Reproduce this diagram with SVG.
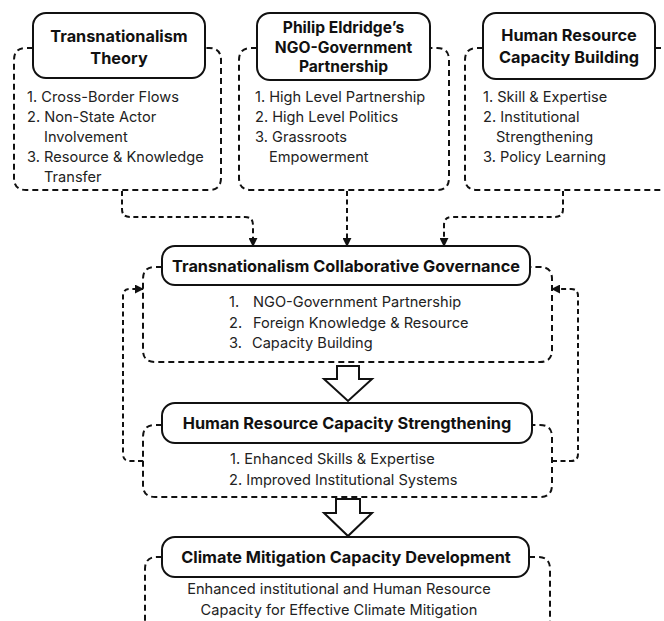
<svg xmlns="http://www.w3.org/2000/svg" width="664" height="621" viewBox="0 0 664 621">
  <defs>
    <style>
      .frame { fill: #ffffff; stroke: #111111; stroke-width: 2; }
      .dash { fill: none; stroke: #111111; stroke-width: 2; stroke-dasharray: 6 4; }
      .link { fill: none; stroke: #111111; stroke-width: 2; stroke-dasharray: 5 3.5; }
      .block { fill: #ffffff; stroke: #111111; stroke-width: 2; stroke-linejoin: miter; }
      .title { font-family: Inter, "Liberation Sans", sans-serif; font-weight: 700; font-size: 16.3px; fill: #111111; text-anchor: middle; }
      .title.small { font-size: 15.6px; }
      .item { font-family: Inter, "Liberation Sans", sans-serif; font-size: 14.6px; fill: #222222; }
      .mid { text-anchor: middle; }
    </style>
    <marker id="tip" viewBox="0 0 10 10" refX="9" refY="5" markerWidth="4.5" markerHeight="4.5" orient="auto" markerUnits="strokeWidth">
      <path d="M0,0 L10,5 L0,10 z" fill="#111111"/>
    </marker>
  </defs>
  <rect width="664" height="621" fill="#ffffff"/>

  <!-- Theory sources -->
  <g id="transnationalism-theory">
    <path class="dash" d="M33,48 H26 Q14,48 14,60 V178 Q14,190 26,190 H209 Q221,190 221,178 V60 Q221,48 209,48 H205"/>
    <rect class="frame" x="33" y="13" width="172" height="65" rx="13"/>
    <text class="title" x="119" y="42">Transnationalism</text>
    <text class="title" x="119" y="64">Theory</text>
    <text class="item" x="27" y="102">1. Cross-Border Flows</text>
    <text class="item" x="27" y="122">2. Non-State Actor</text>
    <text class="item" x="44" y="142">Involvement</text>
    <text class="item" x="27" y="162">3. Resource &amp; Knowledge</text>
    <text class="item" x="44" y="182">Transfer</text>
  </g>

  <g id="ngo-government-partnership">
    <path class="dash" d="M257,48 H251 Q239,48 239,60 V178 Q239,190 251,190 H437 Q449,190 449,178 V60 Q449,48 437,48 H430"/>
    <rect class="frame" x="257" y="13" width="173" height="67" rx="13"/>
    <text class="title small" x="343.5" y="33">Philip Eldridge’s</text>
    <text class="title small" x="343.5" y="53">NGO-Government</text>
    <text class="title small" x="343.5" y="72">Partnership</text>
    <text class="item" x="255" y="102">1. High Level Partnership</text>
    <text class="item" x="255" y="122">2. High Level Politics</text>
    <text class="item" x="255" y="142">3. Grassroots</text>
    <text class="item" x="269" y="162">Empowerment</text>
  </g>

  <g id="capacity-building">
    <path class="dash" d="M483,48 H477 Q465,48 465,60 V178 Q465,190 477,190 H670 M655,48 H670"/>
    <rect class="frame" x="483" y="13" width="172" height="66" rx="13"/>
    <text class="title" x="569" y="41">Human Resource</text>
    <text class="title" x="569" y="63">Capacity Building</text>
    <text class="item" x="483" y="102">1. Skill &amp; Expertise</text>
    <text class="item" x="483" y="122">2. Institutional</text>
    <text class="item" x="496" y="142">Strengthening</text>
    <text class="item" x="483" y="162">3. Policy Learning</text>
  </g>

  <!-- Framework stages -->
  <g id="collaborative-governance">
    <path class="dash" d="M162,267 H155 Q143,267 143,279 V350 Q143,362 155,362 H540 Q552,362 552,350 V279 Q552,267 540,267 H530"/>
    <rect class="frame" x="162" y="246" width="368" height="39" rx="13"/>
    <text class="title" x="346" y="272">Transnationalism Collaborative Governance</text>
    <text class="item" x="229" y="307">1.</text>
    <text class="item" x="253" y="307">NGO-Government Partnership</text>
    <text class="item" x="229" y="328">2.</text>
    <text class="item" x="253" y="328">Foreign Knowledge &amp; Resource</text>
    <text class="item" x="229" y="348">3.</text>
    <text class="item" x="252" y="348">Capacity Building</text>
  </g>

  <g id="capacity-strengthening">
    <path class="dash" d="M162,425 H155 Q143,425 143,437 V485 Q143,497 155,497 H540 Q552,497 552,485 V437 Q552,425 540,425 H532"/>
    <rect class="frame" x="162" y="403" width="370" height="40" rx="13"/>
    <text class="title" x="347" y="429">Human Resource Capacity Strengthening</text>
    <text class="item" x="230" y="464">1. Enhanced Skills &amp; Expertise</text>
    <text class="item" x="229" y="485">2. Improved Institutional Systems</text>
  </g>

  <g id="mitigation-capacity">
    <path class="dash" d="M162,557 H157 Q145,557 145,569 V630 M529,557 H538 Q550,557 550,569 V630"/>
    <rect class="frame" x="162" y="537" width="367" height="40" rx="13"/>
    <text class="title" x="346" y="563">Climate Mitigation Capacity Development</text>
    <text class="item mid" x="339" y="594">Enhanced institutional and Human Resource</text>
    <text class="item mid" x="339" y="615">Capacity for Effective Climate Mitigation</text>
  </g>

  <!-- Connectors -->
  <g id="connectors">
    <path class="link" d="M122,191 V209 Q122,217 130,217 H245 Q253,217 253,225 V246" marker-end="url(#tip)"/>
    <path class="link" d="M347,191 V246" marker-end="url(#tip)"/>
    <path class="link" d="M563,191 V209 Q563,217 555,217 H452 Q444,217 444,225 V246" marker-end="url(#tip)"/>
    <path class="link" d="M143,461 H130 Q123,461 123,454 V296 Q123,289 130,289 H143" marker-end="url(#tip)"/>
    <path class="link" d="M552,461 H571 Q578,461 578,454 V296 Q578,289 571,289 H552" marker-end="url(#tip)"/>
    <polygon class="block" points="337,366 359,366 359,379 372,379 348,401 324,379 337,379"/>
    <polygon class="block" points="336,499 360,499 360,513 372,513 348,536 324,513 336,513"/>
  </g>
</svg>
